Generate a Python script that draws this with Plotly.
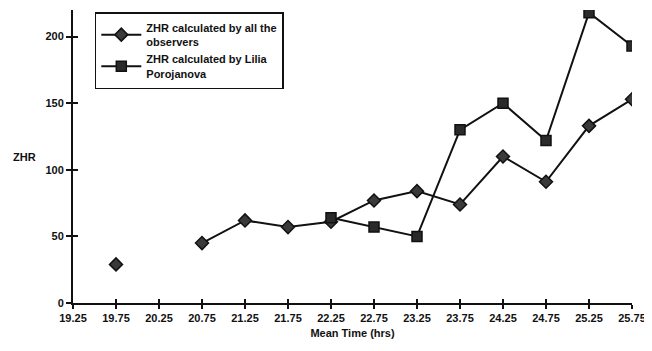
import plotly.graph_objects as go

mean_time = [19.75, 20.25, 20.75, 21.25, 21.75, 22.25, 22.75, 23.25, 23.75, 24.25, 24.75, 25.25, 25.75]
zhr_all = [29, None, 45, 62, 57, 61, 77, 84, 74, 110, 91, 133, 153]
time_lilia = [22.25, 22.75, 23.25, 23.75, 24.25, 24.75, 25.25, 25.75]
zhr_lilia = [64, 57, 50, 130, 150, 122, 218, 193]
x_ticks = [19.25, 19.75, 20.25, 20.75, 21.25, 21.75, 22.25, 22.75, 23.25, 23.75, 24.25, 24.75, 25.25, 25.75]
y_ticks = [0, 50, 100, 150, 200]

ink = "#111111"
fam = "Liberation Sans, Arial, sans-serif"
font = dict(family=fam, size=11, color=ink, weight="bold")

fig = go.Figure()
fig.add_trace(go.Scatter(
    x=mean_time, y=zhr_all, mode="lines+markers", connectgaps=False,
    name="ZHR calculated by all the<br>observers",
    line=dict(color=ink, width=2),
    marker=dict(symbol="diamond", size=10, color="#3a3a3a", line=dict(color=ink, width=1.5)),
))
fig.add_trace(go.Scatter(
    x=time_lilia, y=zhr_lilia, mode="lines+markers",
    name="ZHR calculated by Lilia<br>Porojanova",
    line=dict(color=ink, width=2),
    marker=dict(symbol="square", size=10, color="#2a2a2a", line=dict(color=ink, width=1.5)),
))
# dummy trace to create overlay axes for cross ticks
fig.add_trace(go.Scatter(x=[22], y=[100], xaxis="x2", yaxis="y2", mode="markers",
                         marker=dict(opacity=0), showlegend=False, hoverinfo="skip"))

fig.update_layout(
    width=644, height=343,
    margin=dict(l=65, r=20, t=2, b=48),
    paper_bgcolor="white", plot_bgcolor="white",
    font=font,
    showlegend=True,
    legend=dict(
        x=0.039, y=0.992, xanchor="left", yanchor="top",
        bordercolor=ink, borderwidth=1.5, bgcolor="white",
        font=dict(family=fam, size=11, color=ink, weight="bold"),
        tracegroupgap=0, itemwidth=40,
    ),
    xaxis=dict(
        range=[19.25, 25.75], tickvals=x_ticks, ticktext=[f"{v:.2f}" for v in x_ticks],
        showgrid=False, zeroline=False, showline=True, linecolor=ink, linewidth=2,
        ticks="outside", ticklen=4, tickwidth=1.5, tickcolor=ink,
        title=dict(text="Mean Time (hrs)", font=font, standoff=6),
    ),
    yaxis=dict(
        range=[0, 220], tickvals=y_ticks,
        showgrid=False, zeroline=False, showline=True, linecolor=ink, linewidth=2,
        ticks="outside", ticklen=5, tickwidth=1.5, tickcolor=ink,
    ),
    xaxis2=dict(overlaying="x", anchor="y2", range=[19.25, 25.75], ticks="inside", ticklen=4, tickwidth=1.5,
                tickcolor=ink, tickvals=x_ticks, showticklabels=False, showgrid=False, zeroline=False, showline=False),
    yaxis2=dict(overlaying="y", anchor="x2", range=[0, 220], ticks="inside", ticklen=5, tickwidth=1.5,
                tickcolor=ink, tickvals=y_ticks, showticklabels=False, showgrid=False, zeroline=False, showline=False),
    annotations=[dict(text="ZHR", xref="paper", yref="paper", x=-0.087, y=0.5, showarrow=False,
                      xanchor="center", yanchor="middle", font=font)],
)

fig.write_html("out.html")
